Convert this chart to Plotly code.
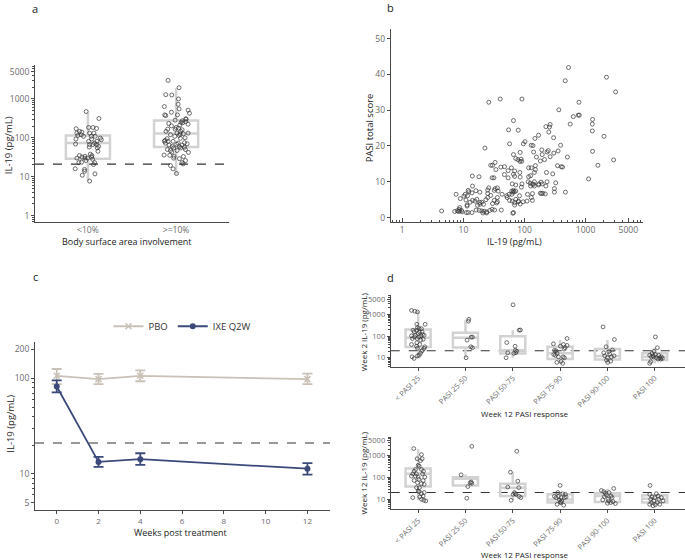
import plotly.graph_objects as go

W, H = 685, 560
FONT = "Open Sans"
AXC = "#4a4a4a"
TICKC = "#6b6b6b"
BOXC = "#d2d2d2"
PTC = "#333333"
PBO_C = "#c9c1b7"
IXE_C = "#3b4a7b"

LLOQ = 21

# ---------------- Panel a ----------------
a_categories = ["<10%", ">=10%"]
a_lt10_il19 = [473, 313, 171, 146, 140, 132, 120, 109, 93, 69, 115, 184, 184, 174, 132, 132, 109, 109, 98, 89,
               93, 81, 81, 73, 67, 67, 67, 60, 55, 45, 58, 38, 35, 32, 28, 35, 32, 30, 30, 26,
               23.5, 23, 16, 15.3, 13.8, 10.9, 11.8, 7.7, 33.5, 23, 20.5, 30]
a_lt10_jit = [-0.02, 0.125, -0.133, -0.095, -0.068, -0.125, -0.076, -0.049, -0.136, -0.14, -0.114, 0.008, 0.057,
              0.098, 0.019, 0.068, 0.038, 0.083, 0.14, 0.152, 0.042, 0.008, 0.102, 0.076, 0.019, 0.057, 0.098,
              0.121, 0.106, 0.114, 0.015, 0.027, 0.045, 0.042, 0.053, -0.095, -0.068, -0.125, -0.034, -0.023,
              -0.072, -0.102, -0.144, -0.038, -0.038, -0.064, 0.08, 0.019, -0.034, 0.076, 0.064, -0.004]
a_ge10_il19 = [2990, 1940, 1285, 1260, 996, 728, 634, 553, 512, 455, 428, 388, 388, 373, 273, 307, 284, 301, 262, 243,
               248, 233, 203, 211, 224, 184, 177, 161, 146, 167, 167, 146, 125, 132, 100, 115, 97, 120, 109, 95,
               86, 81, 81, 81, 73, 75, 73, 70, 68, 65, 59, 57, 55, 65, 60, 55, 50, 47, 47, 50,
               42, 36, 35.5, 33.5, 33, 30, 29, 26, 23, 43, 19.3, 15.9, 12.1, 21.3, 132, 127]
a_ge10_jit = [-0.091, 0.034, -0.117, -0.049, 0.027, 0.023, -0.133, 0.034, 0.136, -0.053, 0.152, -0.129, 0.015,
              -0.117, 0.068, 0.11, -0.011, 0.114, 0.11, 0.076, 0.057, -0.083, -0.053, 0.042, 0.136, 0.0, 0.027,
              0.068, 0.053, -0.011, -0.095, -0.114, 0.045, 0.136, 0.102, 0.034, 0.049, -0.064, -0.015, -0.102,
              -0.125, -0.133, -0.091, -0.034, -0.121, 0.095, 0.023, 0.125, 0.008, 0.068, 0.038, 0.095, 0.053,
              -0.08, -0.042, -0.027, -0.098, -0.064, 0.011, 0.106, 0.14, -0.136, -0.072, -0.023, 0.083, -0.027,
              0.038, 0.106, 0.068, -0.049, -0.064, -0.034, 0.004, 0.08, 0.011, 0.083]
a_q1 = [29, 58]
a_median = [73, 128]
a_q3 = [115, 279]
a_low = [7.7, 11.4]
a_high = [447, 1870]

# ---------------- Panel b ----------------
b_il19 = [525, 465, 2200, 3100, 26, 40, 91, 780, 365, 630, 760, 790, 66, 1300, 1290, 560, 1290, 55, 79, 257,
          263, 224, 250, 170, 2000, 148, 300, 22.5, 57, 96, 102, 129, 138, 390, 192, 234, 245, 355, 1300, 85,
          141, 195, 302, 263, 504, 66, 72, 78, 84, 90, 88, 2880, 157, 182, 213, 33, 30, 1590, 347, 400,
          420, 151, 41, 47, 61, 54, 69, 34, 28, 117, 129, 151, 145, 229, 290, 84, 69, 66, 54, 47,
          29.5, 31.6, 18, 14, 85, 117, 126, 1120, 115, 124, 135, 140, 145, 195, 187, 171, 234, 224, 324, 126,
          145, 170, 91, 89, 72, 63, 14.1, 66, 62, 65, 68, 72, 36, 37, 32, 33, 26, 25, 12, 16,
          18.6, 13.8, 10.7, 12.3, 11.7, 7.6, 25, 28, 43, 51, 56, 62, 83, 135, 112, 182, 190, 200, 219, 309,
          309, 468, 36, 36, 35, 32, 30, 52, 57, 63, 72, 80, 79, 129, 110, 95, 85, 135, 69, 69,
          66, 25, 23.4, 18.6, 15.5, 16.6, 14.1, 21.4, 18.6, 17, 20, 12.9, 11.5, 11.5, 8.9, 11, 10.2, 8.7, 8.5, 8.7,
          8.3, 9.3, 9.5, 7.2, 7.9, 11.2, 12, 13.8, 16.2, 18.2, 20, 21.9, 20.9, 24, 27, 29.5, 32.4, 41.7, 4.4, 24, 64.5]
b_pasi = [41.9, 38.2, 39.2, 35.1, 32.2, 33.1, 33.1, 32.2, 30.1, 28.2, 28.6, 28.6, 27.1, 27.4, 26.1, 26.1, 24.2, 24.5, 24.4, 25.3,
          26.0, 25.4, 23.9, 23.0, 22.7, 22.1, 22.3, 19.4, 20.6, 20.6, 21.2, 20.2, 20.1, 20.2, 18.9, 18.3, 18.7, 18.6, 18.5, 18.2,
          18.3, 17.6, 18.0, 17.0, 16.9, 17.6, 16.5, 16.2, 15.7, 15.7, 16.3, 16.1, 16.9, 15.8, 16.2, 15.4, 14.6, 14.6, 14.5, 14.2,
          14.1, 14.5, 14.1, 14.2, 13.9, 13.1, 13.0, 13.4, 14.6, 13.9, 13.9, 13.4, 12.6, 12.6, 12.2, 12.6, 11.5, 12.1, 11.1, 12.0,
          11.1, 11.1, 11.4, 11.6, 11.3, 11.4, 11.7, 10.8, 10.0, 9.6, 9.3, 9.3, 10.0, 9.4, 9.9, 9.4, 10.0, 8.8, 9.7, 8.8,
          8.8, 9.1, 9.4, 8.5, 9.1, 9.4, 8.8, 7.6, 7.4, 7.1, 7.2, 7.4, 8.3, 7.4, 7.6, 8.1, 8.3, 7.7, 7.6, 7.5,
          7.1, 6.9, 6.5, 7.2, 6.1, 6.5, 6.7, 6.2, 6.5, 6.1, 6.5, 6.5, 6.1, 6.7, 6.5, 6.8, 6.7, 6.8, 6.6, 8.1,
          7.1, 7.1, 5.6, 4.4, 4.1, 4.8, 3.9, 5.6, 4.8, 4.6, 5.1, 4.6, 4.4, 5.6, 4.6, 4.4, 3.8, 4.8, 3.5, 4.2,
          1.4, 5.6, 5.0, 4.2, 4.6, 5.1, 4.8, 3.7, 3.7, 3.4, 4.3, 4.3, 3.2, 3.5, 5.3, 4.9, 6.0, 2.8, 2.3, 1.85,
          1.7, 2.0, 1.6, 1.7, 1.9, 1.4, 1.4, 1.4, 2.1, 2.0, 1.85, 1.76, 1.3, 1.3, 2.0, 2.3, 2.1, 2.1, 1.85, 1.6, 1.2]

# ---------------- Panel c ----------------
weeks = [0, 2, 4, 12]
pbo_mean = [106, 98, 106, 98]
pbo_upper = [125, 111, 121, 112]
pbo_lower = [87, 87, 93, 87]
ixe_mean = [82, 13.3, 14.2, 11.3]
ixe_upper = [95, 15.0, 16.4, 12.9]
ixe_lower = [71, 11.8, 12.4, 9.8]

# ---------------- Panel d ----------------
d_categories = ["< PASI 25", "PASI 25-50", "PASI 50-75", "PASI 75-90", "PASI 90-100", "PASI 100"]

# Week 2 IL-19 per category (values, jitter offsets)
w2_vals = [
    [1510, 1380, 1290, 347, 347, 245, 220, 185, 220, 155, 155, 130, 117, 102, 92, 102, 109, 77, 77, 65,
     71, 41, 49, 41, 27, 27, 22, 20, 16, 13, 12.3, 11.1, 9.3, 34, 32, 185, 155, 109, 92],
    [590, 480, 65, 89, 89, 32, 29, 10],
    [2750, 186, 190, 50, 34, 22, 20, 17, 10, 16, 17],
    [44, 77, 34, 41, 25, 37, 29, 22, 13, 14, 11, 16, 11, 10, 6.8, 5.5, 6.1, 21],
    [263, 69, 32, 23, 19, 17, 15, 12.3, 11, 10, 7.8, 6.1, 7.0, 12.3],
    [91, 29, 20, 16, 13, 14, 13, 11, 11, 10, 10, 9.3, 8.7, 11, 6.6, 5.5, 12.3, 8.7],
]
w2_jit = [
    [-0.14, -0.07, -0.014, -0.028, 0.148, -0.014, 0.021, -0.028, 0.07, 0.028, -0.085, 0.0, 0.092, -0.14, -0.077,
     0.056, 0.127, -0.12, -0.021, 0.056, 0.106, -0.14, -0.028, 0.035, -0.014, 0.127, 0.092, 0.07, 0.049, 0.021,
     -0.014, -0.127, -0.085, -0.035, 0.141, -0.106, 0.085, -0.056, 0.014],
    [0.07, 0.063, 0.035, 0.12, 0.148, 0.113, 0.148, 0.014],
    [0.007, 0.134, 0.162, -0.127, 0.049, 0.056, 0.085, -0.106, -0.141, 0.021, 0.063],
    [-0.141, 0.148, 0.007, 0.07, 0.085, 0.148, 0.106, -0.12, -0.099, -0.134, -0.035, -0.063, 0.063, 0.092, 0.021,
     0.056, -0.07, -0.085],
    [-0.092, 0.148, -0.028, 0.106, 0.028, -0.077, 0.049, 0.141, 0.085, 0.0, -0.021, 0.007, 0.07, -0.056],
    [0.014, 0.056, -0.014, -0.056, -0.106, 0.014, 0.085, 0.141, -0.021, 0.035, 0.106, 0.162, 0.07, -0.07, -0.085,
     -0.106, -0.035, 0.127],
]
w2_q1 = [31, 30, 15.8, 8.7, 8.4, 7.8]
w2_median = [83, 83, 22, 16, 12, 11]
w2_q3 = [199, 140, 98, 32, 25, 16]
w2_low = [9.3, 10, 10, 5.5, 6, 5.5]
w2_high = [1370, 530, 186, 65, 65, 29]

# Week 12 IL-19 per category
w12_vals = [
    [2100, 1120, 725, 725, 590, 363, 330, 234, 234, 195, 195, 148, 148, 148, 117, 117, 105, 105, 83, 74,
     53, 49, 35, 35, 24.5, 23, 18.6, 21, 14.6, 13.2, 10.4, 9.3, 8.7, 12.3, 59, 74],
    [2650, 134, 63, 55, 59, 39, 11.5],
    [1580, 176, 69, 37, 35, 21, 18.6, 17.4, 14, 12.3, 9.3, 17.4],
    [44, 21, 18.6, 17.4, 14, 12.3, 14, 12.3, 12.3, 13.2, 9.7, 8.7, 7.8, 6.1, 5.5, 7.3],
    [32, 26, 23, 19.5, 21, 16.2, 14.6, 13.7, 12.3, 10.4, 9.7, 8.7, 8.1, 6.6, 7.3, 6.8],
    [44, 17.4, 18.6, 14.6, 12.3, 13.2, 12.3, 10.4, 10.4, 8.7, 8.7, 7.3, 7.3, 6.1, 5.8, 6.1, 5.2],
]
w12_jit = [
    [-0.092, 0.07, -0.021, 0.085, 0.049, 0.0, 0.021, 0.07, -0.056, -0.085, 0.113, -0.113, -0.035, 0.092, -0.141,
     -0.056, 0.0, 0.141, 0.014, 0.106, 0.07, 0.127, -0.035, 0.028, 0.0, 0.021, 0.07, 0.127, 0.106, 0.035, 0.07,
     0.12, 0.162, -0.113, -0.014, -0.085],
    [0.134, -0.092, 0.12, 0.134, 0.099, 0.049, 0.028],
    [0.085, -0.049, 0.106, -0.106, 0.127, 0.035, 0.049, 0.07, 0.134, 0.169, -0.035, 0.007],
    [0.0, -0.049, 0.056, 0.113, -0.12, -0.085, -0.035, 0.021, 0.092, 0.127, -0.014, 0.035, 0.007, -0.063, 0.077,
     0.021],
    [0.134, -0.127, -0.077, -0.042, 0.035, -0.021, 0.077, -0.063, 0.099, 0.014, -0.099, 0.028, 0.12, 0.169, 0.07,
     0.0],
    [-0.099, -0.106, 0.035, 0.07, 0.141, -0.056, 0.0, -0.085, 0.085, 0.176, -0.021, 0.056, -0.07, 0.106, 0.014,
     -0.106, -0.035],
]
w12_q1 = [39, 44, 14.7, 7.3, 7.8, 7.3]
w12_median = [149, 89, 35, 10, 14.6, 11]
w12_q3 = [259, 105, 53, 17.4, 19.3, 15.7]
w12_low = [9.3, 40, 9.3, 5.5, 6.6, 5.2]
w12_high = [2000, 138, 176, 21, 31, 18.6]

# ---------------- Build figure ----------------
fig = go.Figure()

def px_x(p):
    return p / W

def px_y(p):
    return 1 - p / H

def add_boxes(xref, yref, q1, med, q3, lo, hi, width, lw):
    fig.add_trace(go.Box(
        x=list(range(len(q1))), q1=q1, median=med, q3=q3, lowerfence=lo, upperfence=hi,
        width=width, whiskerwidth=0, fillcolor="rgba(255,255,255,0)",
        line=dict(color=BOXC, width=lw), boxpoints=False, showlegend=False,
        xaxis=xref, yaxis=yref, hoverinfo="skip"))

def add_points(xref, yref, center, jit, vals, size):
    fig.add_trace(go.Scatter(
        x=[center + j for j in jit], y=vals, mode="markers",
        marker=dict(symbol="circle-open", size=size, color=PTC, line=dict(width=0.7, color=PTC)),
        showlegend=False, xaxis=xref, yaxis=yref, hoverinfo="skip"))

# Panel a
add_boxes("x", "y", a_q1, a_median, a_q3, a_low, a_high, 0.5, 2.5)
add_points("x", "y", 0, a_lt10_jit, a_lt10_il19, 4)
add_points("x", "y", 1, a_ge10_jit, a_ge10_il19, 4)

# Panel b
fig.add_trace(go.Scatter(
    x=b_il19, y=b_pasi, mode="markers",
    marker=dict(symbol="circle-open", size=4, color=PTC, line=dict(width=0.7, color=PTC)),
    showlegend=False, xaxis="x2", yaxis="y2", hoverinfo="skip"))

# Panel c
fig.add_trace(go.Scatter(
    x=weeks, y=pbo_mean, mode="lines+markers", name="PBO",
    line=dict(color=PBO_C, width=1.8),
    marker=dict(symbol="x-thin-open", size=6, color=PBO_C, line=dict(width=1.5, color=PBO_C)),
    error_y=dict(type="data", symmetric=False,
                 array=[u - m for u, m in zip(pbo_upper, pbo_mean)],
                 arrayminus=[m - l for m, l in zip(pbo_mean, pbo_lower)],
                 color=PBO_C, thickness=1.8, width=5),
    xaxis="x3", yaxis="y3"))
fig.add_trace(go.Scatter(
    x=weeks, y=ixe_mean, mode="lines+markers", name="IXE Q2W",
    line=dict(color=IXE_C, width=1.8),
    marker=dict(symbol="circle", size=6, color=IXE_C),
    error_y=dict(type="data", symmetric=False,
                 array=[u - m for u, m in zip(ixe_upper, ixe_mean)],
                 arrayminus=[m - l for m, l in zip(ixe_mean, ixe_lower)],
                 color=IXE_C, thickness=1.8, width=5),
    xaxis="x3", yaxis="y3"))

# Panel d
add_boxes("x4", "y4", w2_q1, w2_median, w2_q3, w2_low, w2_high, 0.53, 2.5)
for i, (j, v) in enumerate(zip(w2_jit, w2_vals)):
    add_points("x4", "y4", i, j, v, 3.8)
add_boxes("x5", "y5", w12_q1, w12_median, w12_q3, w12_low, w12_high, 0.53, 2.5)
for i, (j, v) in enumerate(zip(w12_jit, w12_vals)):
    add_points("x5", "y5", i, j, v, 3.8)

# LLOQ dashed lines
for xr, yr in [("x", "y"), ("x3", "y3"), ("x4", "y4"), ("x5", "y5")]:
    fig.add_shape(type="line", xref=f"{xr} domain", yref=yr, x0=0, x1=1, y0=LLOQ, y1=LLOQ,
                  line=dict(color="#333333", width=1.1, dash="dash"), layer="below")

minor_log = [m * 10 ** e for e in range(-1, 5) for m in range(2, 10)]

def axis_common(**kw):
    d = dict(showline=True, linecolor=AXC, linewidth=1, showgrid=False, zeroline=False,
             ticks="outside", ticklen=3, tickcolor=AXC, tickwidth=1,
             tickfont=dict(family=FONT, size=8.5, color=TICKC))
    d.update(kw)
    return d

def log_minor(side="outside"):
    return dict(tickmode="array", tickvals=minor_log, ticks=side, ticklen=2,
                tickcolor=AXC, tickwidth=1, showgrid=False)

layout = dict(
    width=W, height=H, margin=dict(l=0, r=0, t=0, b=0),
    paper_bgcolor="white", plot_bgcolor="white",
    font=dict(family=FONT, size=9, color="#222"),
    # a
    xaxis=axis_common(domain=[px_x(35), px_x(229)], anchor="y", range=[-0.6, 1.6],
                      tickvals=[0, 1], ticktext=a_categories, ticks=""),
    yaxis=axis_common(domain=[px_y(221), px_y(63)], anchor="x", type="log", range=[-0.16, 3.88],
                      tickvals=[1, 10, 100, 1000, 5000], ticktext=["1", "10", "100", "1000", "5000"],
                      minor=log_minor()),
    # b
    xaxis2=axis_common(domain=[px_x(390.7), px_x(643)], anchor="y2", type="log", range=[-0.19, 3.94],
                       tickvals=[1, 10, 100, 1000, 5000], ticktext=["1", "10", "100", "1000", "5000"],
                       ticks="inside", ticklen=4, minor=log_minor("inside")),
    yaxis2=axis_common(domain=[px_y(220.7), px_y(27)], anchor="x2", range=[-1.1, 52.7],
                       tickvals=[0, 10, 20, 30, 40, 50]),
    # c
    xaxis3=axis_common(domain=[px_x(35), px_x(330)], anchor="y3", range=[-1.04, 13.08],
                       tickvals=[0, 2, 4, 6, 8, 10, 12],
                       tickfont=dict(family=FONT, size=8, color=TICKC)),
    yaxis3=axis_common(domain=[px_y(510.7), px_y(341.7)], anchor="x3", type="log", range=[0.621, 2.381],
                       tickvals=[5, 10, 100, 200], ticktext=["5", "10", "100", "200"],
                       minor=log_minor()),
    # d top
    xaxis4=axis_common(domain=[px_x(390.7), 1.0], anchor="y4", range=[-0.58, 5.64],
                       tickvals=list(range(6)), ticktext=d_categories, tickangle=-45,
                       tickfont=dict(family=FONT, size=7.5, color=TICKC)),
    yaxis4=axis_common(domain=[px_y(366.7), px_y(295)], anchor="x4", type="log", range=[0.587, 3.87],
                       tickvals=[10, 100, 1000, 5000], ticktext=["10", "100", "1000", "5000"],
                       tickfont=dict(family=FONT, size=7.5, color=TICKC), minor=log_minor()),
    # d bottom
    xaxis5=axis_common(domain=[px_x(390.7), 1.0], anchor="y5", range=[-0.58, 5.64],
                       tickvals=list(range(6)), ticktext=d_categories, tickangle=-45,
                       tickfont=dict(family=FONT, size=7.5, color=TICKC)),
    yaxis5=axis_common(domain=[px_y(510), px_y(437.3)], anchor="x5", type="log", range=[0.56, 3.85],
                       tickvals=[10, 100, 1000, 5000], ticktext=["10", "100", "1000", "5000"],
                       tickfont=dict(family=FONT, size=7.5, color=TICKC), minor=log_minor()),
    legend=dict(orientation="h", x=px_x(182), xanchor="center", y=px_y(326), yanchor="middle",
                font=dict(family=FONT, size=9.5, color="#333"), bgcolor="rgba(0,0,0,0)",
                itemwidth=30, tracegroupgap=0),
)
fig.update_layout(**layout)

def ann(text, x, y, size=10, angle=0, xanchor="center", yanchor="middle", color="#222"):
    fig.add_annotation(text=text, x=px_x(x), y=px_y(y), xref="paper", yref="paper",
                       showarrow=False, textangle=angle, xanchor=xanchor, yanchor=yanchor,
                       font=dict(family=FONT, size=size, color=color))

# panel letters
ann("a", 35, 7, size=11)
ann("b", 390, 6, size=11)
ann("c", 35, 276, size=11)
ann("d", 390, 277, size=11)

# axis titles
ann("IL-19 (pg/mL)", 8, 144, size=9.5, angle=-90)
ann("Body surface area involvement", 127, 241, size=9)
ann("PASI total score", 369, 127, size=9.5, angle=-90)
ann("IL-19 (pg/mL)", 514, 241, size=9)
ann("IL-19 (pg/mL)", 11, 424, size=9.5, angle=-90)
ann("Weeks post treatment", 180, 533, size=9)
ann("Week 2 IL-19 (pg/mL)", 363, 332, size=8, angle=-90)
ann("Week 12 PASI response", 524, 414, size=8)
ann("Week 12 IL-19 (pg/mL)", 363, 474, size=8, angle=-90)
ann("Week 12 PASI response", 524, 555, size=8)

fig.write_html("out.html", config={"displayModeBar": False},
               post_script="document.body.style.margin='0';document.body.style.overflow='hidden';")
